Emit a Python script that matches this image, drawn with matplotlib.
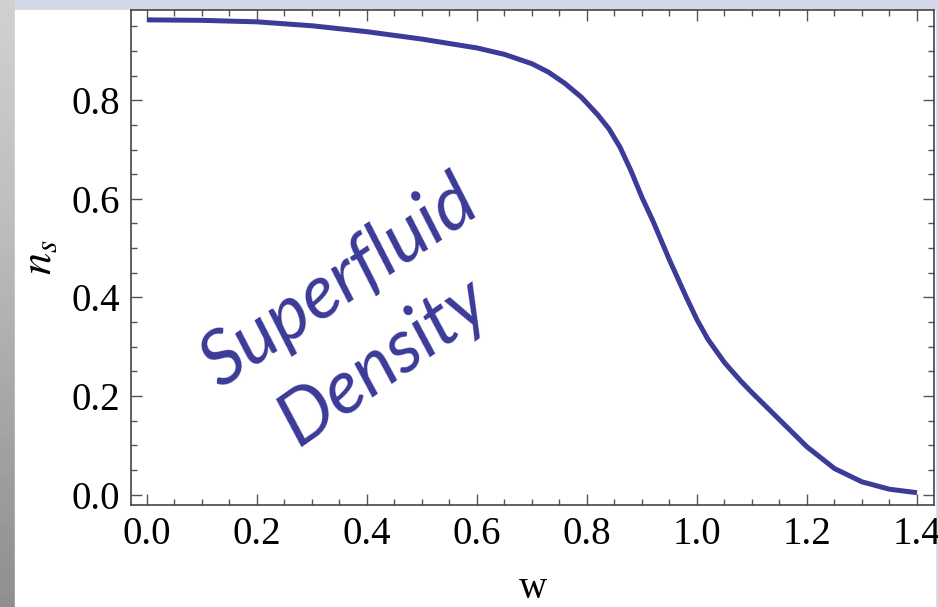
import matplotlib.pyplot as plt
import numpy as np
from matplotlib.patches import Rectangle

# valores
w = [0.0, 0.1, 0.2, 0.3, 0.4, 0.5, 0.6, 0.65, 0.7, 0.73, 0.76, 0.79, 0.82, 0.84,
     0.86, 0.88, 0.9, 0.92, 0.95, 0.98, 1.0, 1.02, 1.05, 1.08, 1.1, 1.15,
     1.2, 1.25, 1.3, 1.35, 1.4]
ns = [0.963, 0.962, 0.959, 0.951, 0.939, 0.924, 0.906, 0.893, 0.874, 0.857, 0.834,
      0.806, 0.770, 0.742, 0.705, 0.657, 0.603, 0.555, 0.476, 0.402, 0.355, 0.315,
      0.268, 0.230, 0.207, 0.152, 0.097, 0.053, 0.026, 0.011, 0.004]

xticks = [0.0, 0.2, 0.4, 0.6, 0.8, 1.0, 1.2, 1.4]
yticks = [0.0, 0.2, 0.4, 0.6, 0.8]
cor = '#3b3b98'

plt.rcParams['mathtext.fontset'] = 'stix'

fig = plt.figure(figsize=(9.38, 6.07), dpi=100, facecolor='#d2d8e5')

# fundo: faixa cinza a esquerda + painel branco
bg = fig.add_axes([0, 0, 1, 1], zorder=-10)
bg.axis('off')
grad = np.linspace(0, 1, 200).reshape(-1, 1)
bg.imshow(grad, extent=(0, 15, 607, 0), cmap='Greys', vmin=-1.2, vmax=3.0,
          aspect='auto')
bg.add_patch(Rectangle((15, 10), 920, 600, color='white'))
bg.set_xlim(0, 938)
bg.set_ylim(607, 0)

ax = fig.add_axes([131 / 938, 102 / 607, 803 / 938, 495 / 607])
ax.set_facecolor('white')
ax.plot(w, ns, color=cor, lw=3.6, solid_capstyle='butt', solid_joinstyle='round')

ax.set_xlim(-0.029, 1.431)
ax.set_ylim(-0.021, 0.983)
ax.set_xticks(xticks)
ax.set_xticklabels(['%.1f' % t for t in xticks])
ax.set_yticks(yticks)
ax.set_yticklabels(['%.1f' % t for t in yticks])
ax.set_xticks(np.arange(0, 1.45, 0.05), minor=True)
ax.set_yticks(np.arange(0, 0.98, 0.05), minor=True)
ax.tick_params(which='both', direction='in', top=True, right=True, color='#555555',
               width=1.0, labelsize=28, labelfontfamily='Liberation Serif')
ax.tick_params(which='major', length=8, pad=8)
ax.tick_params(which='minor', length=4.5)
for s in ax.spines.values():
    s.set_color('#444444')
    s.set_linewidth(1.2)

ax.set_xlabel('w', fontsize=28, family='Liberation Serif', labelpad=12)
ax.set_ylabel('$n_s$', fontsize=32, labelpad=8)

# anotacao "manuscrita"
ax.text(0.35, 0.43, 'Superfluid', rotation=34, color=cor, fontsize=54,
        family='Lato', style='italic', ha='center', va='center')
ax.text(0.43, 0.27, 'Density', rotation=35, color=cor, fontsize=54,
        family='Lato', style='italic', ha='center', va='center')

fig.savefig('out.png', dpi=100, facecolor=fig.get_facecolor())
